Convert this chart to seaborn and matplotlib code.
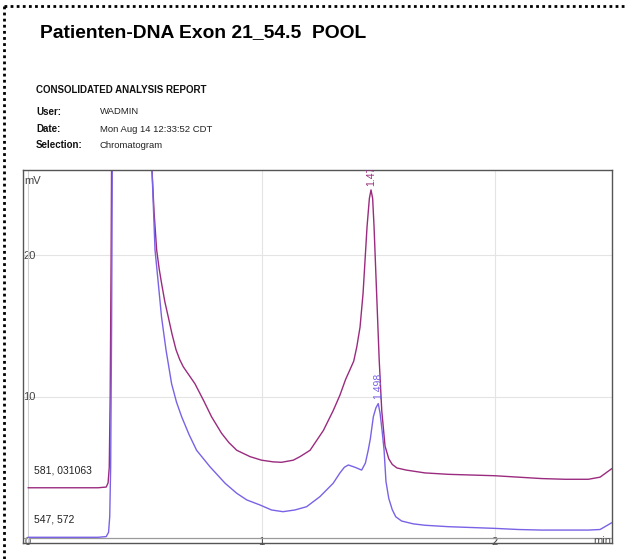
import matplotlib
matplotlib.use("Agg")
import matplotlib.pyplot as plt
from matplotlib.lines import Line2D
import seaborn as sns
import pandas as pd

# Chromatogram traces: retention time (min) and detector signal (mV)
trace_a_name = "581, 031063"
trace_a_time = [0.00, 0.10, 0.20, 0.30, 0.335, 0.343, 0.348, 0.352, 0.356, 0.362,
                0.38, 0.45, 0.52, 0.531, 0.540, 0.551, 0.562, 0.572, 0.586, 0.601,
                0.617, 0.634, 0.650, 0.665, 0.690, 0.715, 0.751, 0.786, 0.829, 0.860,
                0.894, 0.951, 1.00, 1.05, 1.086, 1.136, 1.165, 1.208, 1.265, 1.307,
                1.336, 1.36, 1.379, 1.395, 1.408, 1.422, 1.435, 1.452, 1.462, 1.469,
                1.476, 1.482, 1.493, 1.504, 1.515, 1.529, 1.545, 1.56, 1.58, 1.62,
                1.70, 1.80, 1.90, 2.00, 2.10, 2.20, 2.30, 2.40, 2.45, 2.50]
trace_a_mv = [3.55, 3.55, 3.55, 3.55, 3.6, 3.9, 5.0, 10.0, 20.0, 40.0,
              90.0, 140.0, 45.0, 26.0, 23.0, 20.35, 19.0, 18.0, 16.7, 15.6,
              14.4, 13.3, 12.6, 12.1, 11.5, 10.9, 9.75, 8.57, 7.4, 6.75,
              6.2, 5.75, 5.5, 5.38, 5.35, 5.5, 5.75, 6.2, 7.6, 9.0,
              10.1, 11.2, 11.9, 12.5, 13.5, 14.9, 17.3, 22.0, 24.0, 24.6,
              24.0, 22.0, 17.3, 12.6, 9.0, 6.5, 5.6, 5.2, 4.95, 4.8,
              4.6, 4.5, 4.45, 4.4, 4.3, 4.2, 4.15, 4.15, 4.3, 4.9]

trace_b_name = "547, 572"
trace_b_time = [0.00, 0.20, 0.30, 0.335, 0.345, 0.350, 0.354, 0.358, 0.362, 0.38,
                0.45, 0.52, 0.531, 0.544, 0.558, 0.572, 0.591, 0.615, 0.636, 0.658,
                0.690, 0.722, 0.779, 0.844, 0.894, 0.937, 0.994, 1.043, 1.092, 1.143,
                1.193, 1.25, 1.307, 1.336, 1.355, 1.372, 1.40, 1.429, 1.445, 1.457,
                1.466, 1.479, 1.49, 1.500, 1.508, 1.517, 1.525, 1.533, 1.545, 1.56,
                1.575, 1.60, 1.65, 1.70, 1.80, 2.00, 2.10, 2.20, 2.30, 2.40,
                2.45, 2.50]
trace_b_mv = [0.05, 0.05, 0.05, 0.1, 0.4, 1.5, 5.0, 15.0, 30.0, 90.0,
              140.0, 40.0, 26.0, 20.35, 18.0, 15.6, 13.3, 10.9, 9.6, 8.57,
              7.3, 6.2, 5.04, 3.87, 3.16, 2.69, 2.33, 1.98, 1.86, 1.98,
              2.21, 2.92, 3.87, 4.6, 5.0, 5.16, 5.0, 4.8, 5.3, 6.2,
              7.0, 8.57, 9.2, 9.5, 8.8, 7.5, 6.2, 4.0, 2.8, 2.0,
              1.5, 1.2, 1.0, 0.9, 0.8, 0.68, 0.6, 0.56, 0.56, 0.56,
              0.6, 1.08]

# Integrated peak apexes (retention time label, time, height)
peak_labels = ["1.47", "1.498"]
peak_times = [1.469, 1.500]
peak_heights = [24.6, 9.5]

x_ticks = [0, 1, 2]
x_tick_labels = ["0", "1", "2"]
y_ticks = [0, 10, 20]
y_tick_labels = ["", "10", "20"]

color_a = "#9a2b7f"
color_b = "#7a62e6"

df = pd.concat([
    pd.DataFrame({"time": trace_a_time, "mV": trace_a_mv, "trace": trace_a_name}),
    pd.DataFrame({"time": trace_b_time, "mV": trace_b_mv, "trace": trace_b_name}),
], ignore_index=True)

sns.set_theme(style="white")
plt.rcParams["font.family"] = ["Liberation Sans", "DejaVu Sans"]

W, H = 627, 559
fig = plt.figure(figsize=(W / 100, H / 100), dpi=100)
fig.patch.set_facecolor("white")

# Plot frame in pixel coordinates
left, right, top, bottom = 23, 612, 170, 543
ax = fig.add_axes([left / W, 1 - bottom / H, (right - left) / W, (bottom - top) / H])

sns.lineplot(data=df, x="time", y="mV", hue="trace",
             palette={trace_a_name: color_a, trace_b_name: color_b},
             linewidth=1.0, legend=False, ax=ax, estimator=None, sort=True)

px_per_min = 233.5
px_per_mv = 14.15
ax.set_xlim(-5 / px_per_min, (right - 28) / px_per_min)
ax.set_ylim(-5 / px_per_mv, (538 - top) / px_per_mv)

# Grid and zero axes
for xv in x_ticks[1:]:
    ax.axvline(xv, color="#e4e4e4", lw=0.8, zorder=0)
for yv in y_ticks[1:]:
    ax.axhline(yv, color="#e4e4e4", lw=0.8, zorder=0)
ax.axhline(0, color="#9a9a9a", lw=0.9, zorder=1)
ax.axvline(0, color="#d0d0d0", lw=0.8, zorder=1)

for sp in ax.spines.values():
    sp.set_color("#555555")
    sp.set_linewidth(1.0)

ax.set_xlabel("")
ax.set_ylabel("")
ax.set_xticks(x_ticks)
ax.set_yticks(y_ticks)
ax.set_xticklabels(x_tick_labels)
ax.set_yticklabels(y_tick_labels)
ax.tick_params(axis="x", direction="in", length=6, width=1.2, color="#777777",
               pad=-4.5, labelsize=8, labelcolor="#444444")
ax.tick_params(axis="y", direction="in", length=0, pad=-9, labelsize=8,
               labelcolor="#444444")
for lbl in ax.get_yticklabels():
    lbl.set_horizontalalignment("right")

ax.text(0.002, 0.985, "mV", transform=ax.transAxes, ha="left", va="top",
        fontsize=8, color="#444444")
ax.text(0.999, 0.006, "min", transform=ax.transAxes, ha="right", va="center",
        fontsize=8, color="#555555")

# Trace names next to each baseline
ax.text(0.019, trace_a_mv[0] + 0.9, trace_a_name, ha="left", va="bottom",
        fontsize=7.5, color="#222222", transform=ax.get_yaxis_transform())
ax.text(0.019, trace_b_mv[0] + 0.9, trace_b_name, ha="left", va="bottom",
        fontsize=7.5, color="#222222", transform=ax.get_yaxis_transform())

# Peak retention-time labels
for lbl, t, h, c in zip(peak_labels, peak_times, peak_heights, [color_a, color_b]):
    ax.text(t, h + 0.3, lbl, rotation=90, ha="center", va="bottom",
            fontsize=7.5, color=c, clip_on=True)

# Report header
fig.text(40 / W, 1 - 33 / H, "Patienten-DNA Exon 21_54.5  POOL", ha="left",
         va="center", fontsize=13.9, fontweight="bold", color="black")
fig.text(36 / W, 1 - 90 / H, "CONSOLIDATED ANALYSIS REPORT", ha="left",
         va="center", fontsize=7, fontweight="bold", color="#111111")
rows = [("User:", "WADMIN", 112), ("Date:", "Mon Aug 14 12:33:52 CDT", 129),
        ("Selection:", "Chromatogram", 145)]
for k, v, yy in rows:
    fig.text(36 / W, 1 - yy / H, k, ha="left", va="center", fontsize=7,
             fontweight="bold", color="#111111")
    fig.text(100 / W, 1 - yy / H, v, ha="left", va="center", fontsize=6.8,
             color="#222222")

# Dotted page border (top and left edges)
fig.add_artist(Line2D([4 / W, 1.0], [1 - 6 / H, 1 - 6 / H], transform=fig.transFigure,
                      color="black", lw=2.0, linestyle=(0, (1, 1.2)),
                      solid_capstyle="butt", dash_capstyle="butt"))
fig.add_artist(Line2D([4 / W, 4 / W], [1 - 6 / H, 0.0], transform=fig.transFigure,
                      color="black", lw=2.0, linestyle=(0, (1, 1.2)),
                      solid_capstyle="butt", dash_capstyle="butt"))

fig.savefig("out.png", dpi=100)
